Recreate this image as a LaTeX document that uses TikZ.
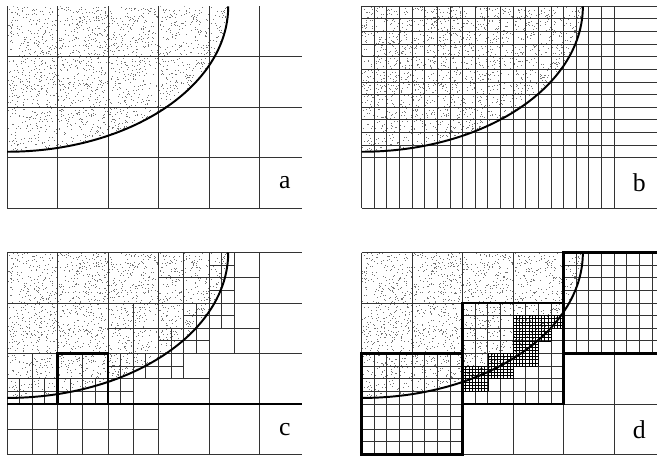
\documentclass[tikz,border=0pt]{standalone}
\usepackage{fontspec}
\setmainfont{Liberation Serif}
\usetikzlibrary{calc}
\newcommand\ea{4.38}
\newcommand\eb{2.88}
\newcommand\panelW{5.84}
\newcommand\stippleQ{%
  \begin{scope}[fill=black!55]
    \clip (0,0) -- (\ea,0) arc[start angle=0,end angle=90,x radius=\ea,y radius=\eb] -- cycle;
    \pgfmathsetseed{2718}
    \foreach \k in {1,...,2400}
      \fill ({\ea*rnd},{\eb*rnd}) rectangle ++(0.016,0.016);
  \end{scope}}
\newcommand\bowl{%
  \draw[curveline] (\ea,0) arc[start angle=0,end angle=90,x radius=\ea,y radius=\eb];}
\newcommand\finemesh[4]{%
  \foreach \k in {0,...,#3} \draw[fineline] ({#1+\k/16},#2) -- ({#1+\k/16},{#2+#4/16});
  \foreach \k in {0,...,#4} \draw[fineline] (#1,{#2+\k/16}) -- ({#1+#3/16},{#2+\k/16});}

\begin{document}
\begin{tikzpicture}[x=1cm,y=1cm,
    gridline/.style={black!80,line width=0.55pt},
    fineline/.style={black,line width=0.4pt},
    boldline/.style={black,line width=1.6pt},
    curveline/.style={black,line width=1.1pt},
    lbl/.style={font=\fontsize{14.5}{16}\selectfont,inner sep=0pt}]
  \useasboundingbox (0,0) rectangle (13.03,9.05);

  \begin{scope}[shift={(0.139,8.925)},yscale=-1]
    \stippleQ
    \foreach \k in {0,...,5} \draw[gridline] (\k,0) -- (\k,4);
    \foreach \k in {1,...,4} \draw[gridline] (0,\k) -- (\panelW,\k);
    \bowl
    \node[lbl] (la) at (5.5,3.5) {a};
  \end{scope}

  \begin{scope}[shift={(7.162,8.925)},yscale=-1]
    \stippleQ
    \foreach \k in {0,...,20} \draw[gridline] ({\k/4},0) -- ({\k/4},4);
    \foreach \k in {0,...,12} \draw[gridline] (0,{\k/4}) -- (\panelW,{\k/4});
    \draw[gridline] (0,4) -- (\panelW,4);
    \bowl
    \node[lbl] (lb) at (5.5,3.5) {b};
  \end{scope}

  \begin{scope}[shift={(0.139,4.05)},yscale=-1]
    \stippleQ
    \foreach \k in {0,...,5} \draw[gridline] (\k,0) -- (\k,4);
    \foreach \k in {0,...,4} \draw[gridline] (0,\k) -- (\panelW,\k);
    \foreach \lvl/\lo/\hi in {0.25/4/4.5,0.5/3/5,0.75/4/4.5,1.25/3.5/4.5,1.5/2/5,
        1.75/3/4,2.25/2/3.5,2.5/0/4,2.75/0/2.5,3.5/0/3}
      \draw[gridline] (\lo,\lvl) -- (\hi,\lvl);
    \foreach \lvl/\lo/\hi in {0.25/2.5/3,0.5/2/4,0.75/2.5/3,1.25/2.5/3,1.5/2/4,
        1.75/2.5/3,2.25/2/3,2.5/1/4,2.75/2/2.5,3.25/1.5/2.5,3.5/0/2.5,3.75/1/2,
        4.25/0/1.5,4.5/0/2}
      \draw[gridline] (\lvl,\lo) -- (\lvl,\hi);
    \draw[gridline,black,line width=0.9pt] (0,3) -- (\panelW,3);
    \draw[boldline] (1,2) rectangle (2,3);
    \bowl
    \node[lbl] (lc) at (5.5,3.5) {c};
  \end{scope}

  \begin{scope}[shift={(7.162,4.05)},yscale=-1]
    \stippleQ
    \foreach \k in {0,...,5} \draw[gridline] (\k,0) -- (\k,4);
    \foreach \k in {0,...,4} \draw[gridline] (0,\k) -- (\panelW,\k);
    \foreach \k in {1,...,7} {
      \draw[gridline] ({4+\k/4},0) -- ({4+\k/4},2);
      \draw[gridline] (4,{\k/4}) -- (\panelW,{\k/4});
      \draw[gridline] ({2+\k/4},1) -- ({2+\k/4},3);
      \draw[gridline] (2,{1+\k/4}) -- (4,{1+\k/4});
      \draw[gridline] ({\k/4},2) -- ({\k/4},4);
      \draw[gridline] (0,{2+\k/4}) -- (2,{2+\k/4});
    }
    \finemesh{3}{1.25}{16}{4}
    \finemesh{3}{1.5}{12}{4}
    \finemesh{3}{1.75}{8}{4}
    \finemesh{2.5}{2}{16}{4}
    \finemesh{2}{2.25}{16}{4}
    \finemesh{2}{2.5}{8}{4}
    \draw[boldline] (\panelW,0) -- (4,0) -- (4,2) -- (\panelW,2);
    \draw[boldline] (2,1) rectangle (4,3);
    \draw[boldline] (0,2) rectangle (2,4);
    \bowl
    \node[lbl] (ld) at (5.5,3.5) {d};
  \end{scope}
\end{tikzpicture}
\end{document}
